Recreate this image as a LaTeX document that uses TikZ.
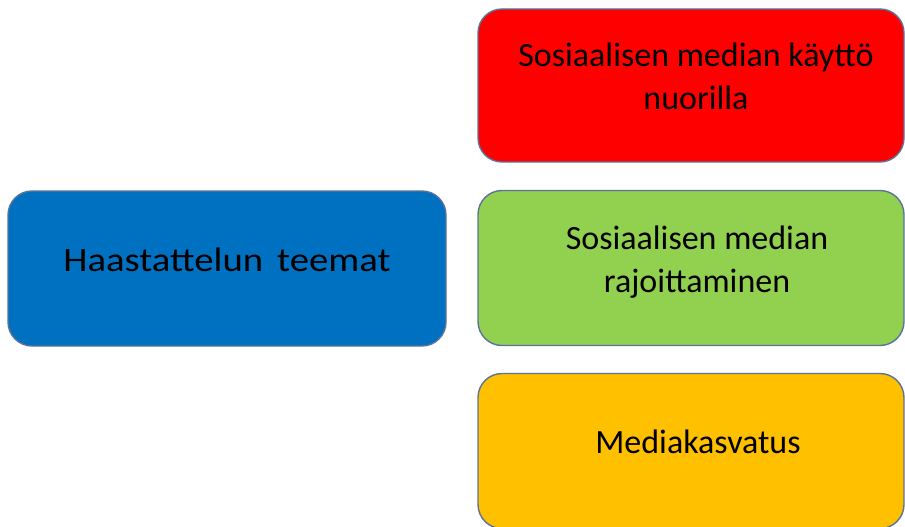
\documentclass[tikz,border=0pt]{standalone}
\usepackage{fontspec}
\setmainfont{Carlito}
\usepackage{tikz}
\usetikzlibrary{calc}
\definecolor{teemablue}{RGB}{0,112,192}
\definecolor{teemared}{RGB}{255,0,0}
\definecolor{teemagreen}{RGB}{146,208,80}
\definecolor{teemaorange}{RGB}{255,192,0}
\definecolor{teemaedge}{RGB}{90,115,155}

\begin{document}
\begin{tikzpicture}[x=1pt, y=-1pt,
		themebox/.style={draw=teemaedge, line width=1.4pt, rounded corners=24pt, minimum height=155pt, inner sep=0pt},
		themetext/.style={align=center, font=\fontsize{34}{43}\selectfont, text=black}]
		%%%%% START %%%%%
		
		\useasboundingbox (0, 0) rectangle (905, 527);
		
		\node[themebox, fill=teemablue, minimum width=438pt] (teemat) at (227, 268.5) {};
		\node[themetext] (teematlabel) at ($(teemat.center)+(0, -9)$) {\addfontfeature{FakeStretch=1.14}Haastattelun\hspace{14pt}teemat};
		
		\node[themebox, fill=teemared, minimum width=426pt, minimum height=153pt] (kaytto) at (691, 85.5) {};
		\node[themetext] (kayttolabel) at ($(kaytto.center)+(5, -9)$) {Sosiaalisen median käyttö\\nuorilla};
		
		\node[themebox, fill=teemagreen, minimum width=426pt] (rajoitus) at (691, 268) {};
		\node[themetext] (rajoituslabel) at ($(rajoitus.center)+(6, -6)$) {Sosiaalisen median\\rajoittaminen};
		
		\node[themebox, fill=teemaorange, minimum width=426pt] (kasvatus) at (691, 451) {};
		\node[themetext] (kasvatuslabel) at ($(kasvatus.center)+(7, -9)$) {Mediakasvatus};
		
		%%%%% END %%%%%
	\end{tikzpicture}
\end{document}
